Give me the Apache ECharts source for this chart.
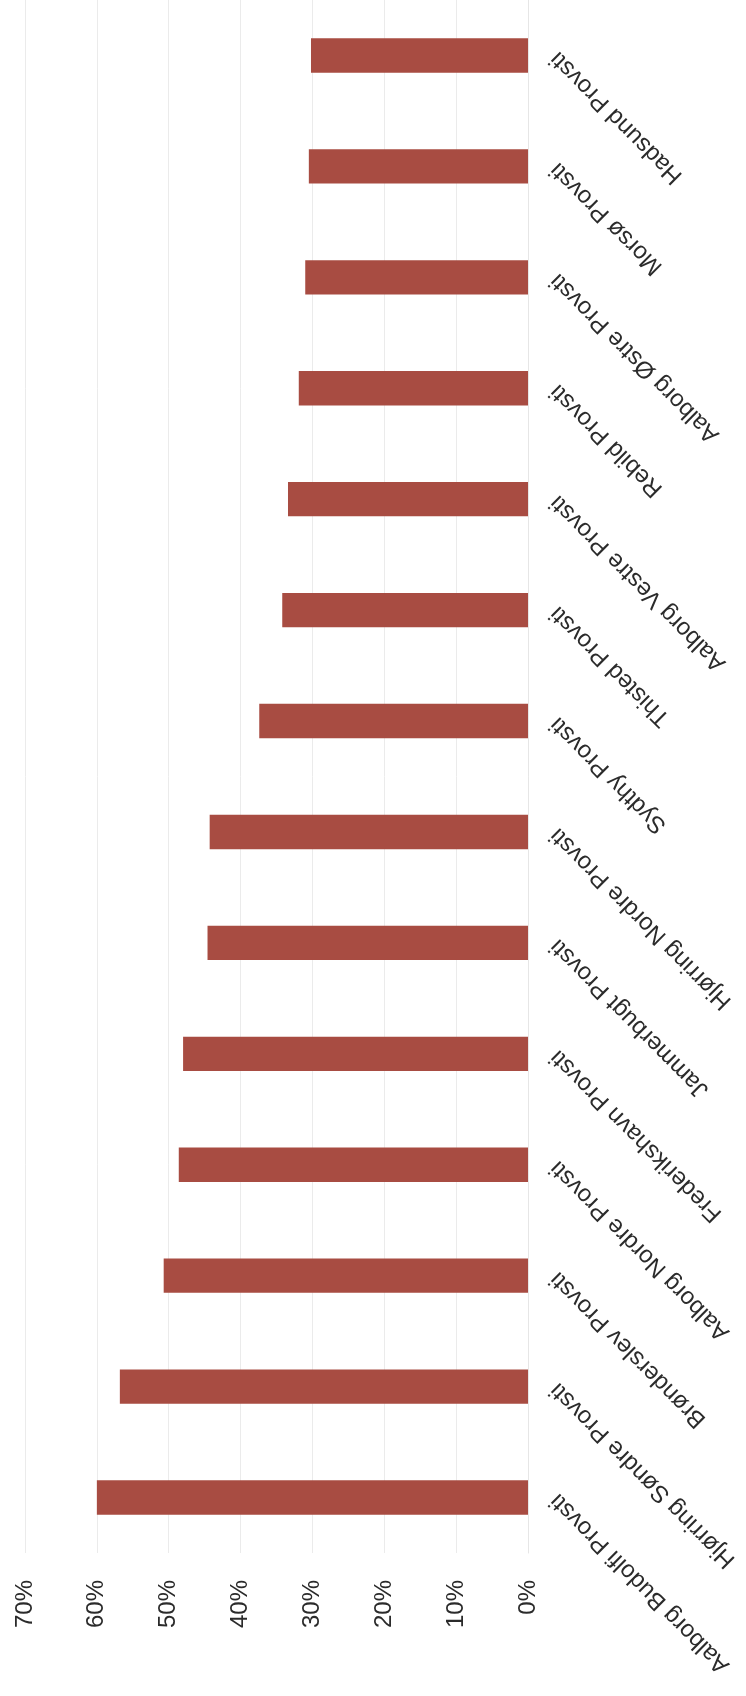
<!DOCTYPE html>
<html>
<head>
<meta charset="utf-8">
<script src="https://cdn.jsdelivr.net/npm/echarts@6/dist/echarts.min.js"></script>
<style>
  html, body { margin: 0; padding: 0; background: #ffffff; }
  #chart { width: 746px; height: 1696px; }
</style>
</head>
<body>
<div id="chart"></div>
<script>
// Categories in original chart order (first = bottom of the rotated page)
const categories = [
  'Aalborg Budolfi Provsti',
  'Hjørring Søndre Provsti',
  'Brønderslev Provsti',
  'Aalborg Nordre Provsti',
  'Frederikshavn Provsti',
  'Jammerbugt Provsti',
  'Hjørring Nordre Provsti',
  'Sydthy Provsti',
  'Thisted Provsti',
  'Aalborg Vestre Provsti',
  'Rebild Provsti',
  'Aalborg Østre Provsti',
  'Morsø Provsti',
  'Hadsund Provsti'
];
// Share in percent
const values = [60.0, 56.8, 50.7, 48.6, 48.0, 44.6, 44.3, 37.4, 34.2, 33.4, 31.9, 31.0, 30.5, 30.2];
// Value axis ticks (percent)
const tickMin = 0;
const tickMax = 70;
const tickStep = 10;

const chart = echarts.init(document.getElementById('chart'), null, { renderer: 'canvas' });
chart.setOption({
  animation: false,
  backgroundColor: '#ffffff',
  textStyle: { fontFamily: 'Liberation Sans, Arial, sans-serif' },
  grid: { left: 25, right: 218, top: -6, bottom: 143, containLabel: false },
  xAxis: {
    type: 'value',
    inverse: true,
    min: tickMin,
    max: tickMax,
    interval: tickStep,
    position: 'bottom',
    axisLine: { show: false },
    axisTick: { show: false },
    splitLine: { show: true, lineStyle: { color: '#ebebeb', width: 1 } },
    axisLabel: {
      rotate: 90,
      margin: 27,
      fontSize: 24,
      color: '#2b2b2b',
      fontFamily: 'Liberation Sans, Arial, sans-serif',
      formatter: v => v + '%'
    }
  },
  yAxis: {
    type: 'category',
    data: categories,
    position: 'right',
    axisLine: { show: true, lineStyle: { color: '#e6e6e6', width: 1 } },
    axisTick: { show: false },
    splitLine: { show: false },
    axisLabel: {
      rotate: 135,
      align: 'right',
      verticalAlign: 'middle',
      margin: 26,
      fontSize: 24,
      color: '#2b2b2b',
      fontFamily: 'Liberation Sans, Arial, sans-serif',
      interval: 0
    }
  },
  series: [{
    type: 'bar',
    data: values,
    barWidth: '31%',
    itemStyle: { color: '#a84c42' }
  }]
});
</script>
</body>
</html>
